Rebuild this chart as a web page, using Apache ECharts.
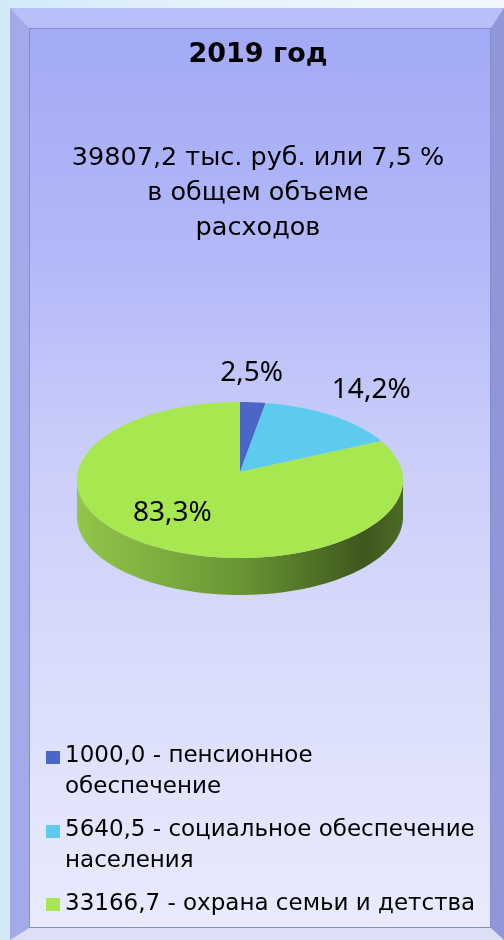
<!DOCTYPE html>
<html lang="ru">
<head>
<meta charset="utf-8">
<title>2019 год</title>
<script src="https://cdn.jsdelivr.net/npm/echarts@6/dist/echarts.min.js"></script>
<style>
  html, body {
    margin: 0;
    padding: 0;
    width: 504px;
    height: 940px;
    overflow: hidden;
  }
  body {
    position: relative;
    background: linear-gradient(to right, #d2eaf8 0%, #e4f2fb 40%, #f2f8fd 100%);
  }
  .frame {
    position: absolute;
    left: 10px;
    top: 8px;
    width: 494px;
    height: 932px;
    box-sizing: border-box;
    border-style: solid;
    border-width: 20px 13px 12px 19px;
    border-color: #b9c0f8 #8f97d8 #dcdff6 #a3aaea;
  }
  .panel {
    position: absolute;
    left: 29px;
    top: 28px;
    width: 462px;
    height: 900px;
    box-sizing: border-box;
    border: 1px solid #858cd0;
    background: linear-gradient(to bottom, #a3aaf6 0%, #b2b8f8 25%, #c8ccfa 45%, #d6d9fb 65%, #e2e4fc 85%, #e9eafd 100%);
  }
  #chart {
    position: absolute;
    left: 0;
    top: 0;
    width: 504px;
    height: 940px;
  }
</style>
</head>
<body>
<div class="frame"></div>
<div class="panel"></div>
<div id="chart"></div>
<script>
  /* данные */
  var categories = ["пенсионное\nобеспечение", "социальное обеспечение\nнаселения", "охрана семьи и детства"];
  var values = [1000.0, 5640.5, 33166.7];
  var colors = ["#4a66c8", "#5ccbee", "#a7e750"];
  var titleText = "2019 год";
  var subText = "39807,2 тыс. руб. или 7,5 %\nв общем объеме\nрасходов";

  var total = values.reduce(function (a, b) { return a + b; }, 0);
  var legendNames = values.map(function (v, i) {
    return v.toFixed(1).replace(".", ",") + " - " + categories[i];
  });

  /* геометрия псевдо-3D круга */
  var pie = { cx: 240, cy: 480, rx: 163, ry: 78, depth: 37, apexDy: -8 };
  /* положение подписей (доли радиуса по x и y) */
  var labelPos = [[0.9, 1.376], [1.42, 1.4], [0.83, 0.49]];

  // маркер легенды: квадрат у первой строки для двухстрочных подписей
  var iconTwoLines = "path://M0,0M0,10L14,10L14,23L0,23ZM0,62";
  var iconOneLine = "path://M0,0L14,0L14,13L0,13Z";

  function rimPoint(a, dy) {
    return [pie.cx + pie.rx * Math.sin(a), pie.cy - pie.ry * Math.cos(a) + (dy || 0)];
  }

  function arc(a0, a1, dy) {
    var pts = [];
    var n = Math.max(2, Math.ceil((a1 - a0) / 0.02));
    for (var k = 0; k <= n; k++) {
      pts.push(rimPoint(a0 + (a1 - a0) * k / n, dy));
    }
    return pts;
  }

  var sideGradient = new echarts.graphic.LinearGradient(pie.cx - pie.rx, 0, pie.cx + pie.rx, 0, [
    { offset: 0, color: "#93c64b" },
    { offset: 0.5, color: "#6a9534" },
    { offset: 0.88, color: "#3e581d" },
    { offset: 1, color: "#4b6a26" },
  ], true);

  function renderSlice(idx) {
    return function (params, api) {
      var start = 0;
      for (var j = 0; j < idx; j++) start += values[j];
      var v = api.value(0);
      var a0 = (start / total) * Math.PI * 2;
      var a1 = ((start + v) / total) * Math.PI * 2;
      var children = [];

      // боковая стенка (видна только передняя половина)
      var s0 = Math.max(a0, Math.PI / 2);
      var s1 = Math.min(a1, Math.PI * 1.5);
      if (s1 > s0) {
        var top = arc(s0, s1, 0);
        var bottom = arc(s0, s1, pie.depth).reverse();
        children.push({
          type: "polygon",
          shape: { points: top.concat(bottom) },
          style: { fill: sideGradient },
        });
      }

      // верхняя грань
      var face = [[pie.cx, pie.cy + pie.apexDy]].concat(arc(a0, a1, 0));
      children.push({
        type: "polygon",
        shape: { points: face },
        style: { fill: colors[idx] },
      });

      // подпись процента
      var m = (a0 + a1) / 2;
      var lp = labelPos[idx];
      children.push({
        type: "text",
        x: pie.cx + pie.rx * lp[0] * Math.sin(m),
        y: pie.cy - pie.ry * lp[1] * Math.cos(m),
        style: {
          text: ((v / total) * 100).toFixed(1).replace(".", ",") + "%",
          fill: "#000",
          fontFamily: "Noto Sans",
          fontSize: 28,
          align: "center",
          verticalAlign: "middle",
        },
      });

      return { type: "group", children: children };
    };
  }

  var chart = echarts.init(document.getElementById("chart"));

  var option = {
    animation: false,
    backgroundColor: "transparent",
    title: {
      text: titleText,
      subtext: subText,
      left: 258,
      top: 39,
      textAlign: "center",
      padding: 0,
      itemGap: 70,
      textStyle: {
        fontFamily: "DejaVu Sans",
        fontWeight: "bold",
        fontSize: 27,
        lineHeight: 32,
        color: "#000",
      },
      subtextStyle: {
        fontFamily: "DejaVu Sans",
        fontSize: 25.5,
        lineHeight: 35,
        color: "#000",
        align: "center",
      },
    },
    legend: {
      orient: "vertical",
      left: 46,
      top: 741,
      padding: 0,
      itemGap: 12,
      itemWidth: 14,
      itemHeight: 62,
      symbolKeepAspect: true,
      selectedMode: false,
      textStyle: {
        fontFamily: "DejaVu Sans",
        fontSize: 23,
        lineHeight: 31,
        color: "#000",
      },
      data: legendNames.map(function (name) {
        return {
          name: name,
          icon: name.indexOf("\n") >= 0 ? iconTwoLines : iconOneLine,
        };
      }),
    },
    series: values.map(function (v, i) {
      return {
        type: "custom",
        name: legendNames[i],
        coordinateSystem: "none",
        silent: true,
        itemStyle: { color: colors[i] },
        data: [v],
        renderItem: renderSlice(i),
      };
    }),
  };

  chart.setOption(option);
</script>
</body>
</html>
